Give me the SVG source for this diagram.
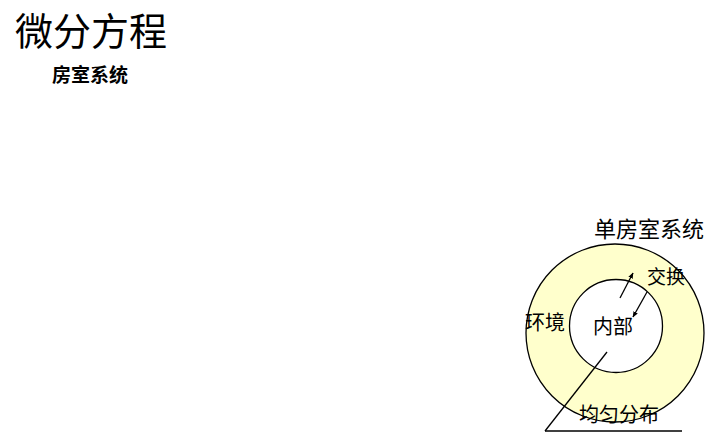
<svg xmlns="http://www.w3.org/2000/svg" width="720" height="447" viewBox="0 0 720 447">
<style>
.t{font-family:"Noto Sans CJK SC","Noto Sans",sans-serif;fill:#000}
.ln{stroke:#000;stroke-width:1.3;fill:none}
</style>
<defs>
<marker id="ah" viewBox="0 0 10 10" refX="9" refY="5" markerWidth="6" markerHeight="6" orient="auto-start-reverse" markerUnits="userSpaceOnUse">
<path d="M0,1 L10,5 L0,9 z" fill="#000"/>
</marker>
</defs>
<rect width="720" height="447" fill="#fff"/>
<text class="t" x="15" y="45" font-size="38">微分方程</text>
<text class="t" x="52" y="82" font-size="19" font-weight="bold">房室系统</text>
<g id="outer">
<circle cx="615" cy="333" r="89" fill="#FFFFCC" stroke="#000" stroke-width="1.3"/>
</g>
<g id="inner">
<circle cx="616" cy="326" r="46.5" fill="#fff" stroke="#000" stroke-width="1.3"/>
</g>
<g id="labels">
<text class="t" x="594" y="237" font-size="22">单房室系统</text>
<text class="t" x="647" y="284" font-size="19">交换</text>
<text class="t" x="525" y="330" font-size="20">环境</text>
<text class="t" x="593" y="334" font-size="20">内部</text>
<text class="t" x="579" y="422" font-size="20">均匀分布</text>
</g>
<g id="connectors">
<line class="ln" x1="620" y1="298" x2="633" y2="273" marker-end="url(#ah)"/>
<line class="ln" x1="647" y1="292" x2="633" y2="317" marker-end="url(#ah)"/>
<line class="ln" x1="607" y1="352" x2="545" y2="431"/>
<line class="ln" x1="545" y1="431" x2="682" y2="431" stroke-width="2"/>
</g>
</svg>
